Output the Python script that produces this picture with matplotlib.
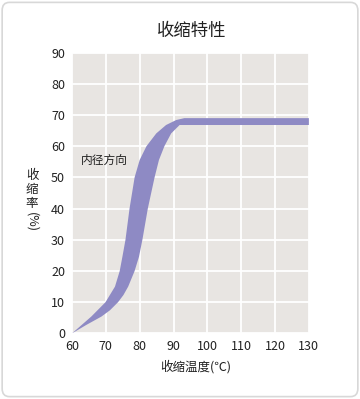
import matplotlib
matplotlib.use('Agg')
import matplotlib.pyplot as plt
from matplotlib.patches import FancyBboxPatch

plt.rcParams['font.family'] = ['Noto Sans CJK SC', 'DejaVu Sans']

# band edges (temperature, shrinkage %)
upper_x = [60, 65.7, 69.9, 72.7, 74.1, 74.9, 75.8, 77.0, 78.5, 80, 82, 84.9, 87.8, 90.8, 93.2, 130]
upper_y = [0, 5.4, 10, 15, 20, 24.6, 30, 40, 50, 55.6, 60, 64.1, 66.8, 68.4, 69, 69]
lower_x = [60, 64.2, 68.7, 71.2, 73.6, 75.2, 76.6, 78.5, 79.8, 80.8, 82.4, 84.4, 85.7, 87.3, 89.3, 91.8, 130]
lower_y = [0, 2.7, 5.4, 7.4, 10, 12.3, 15, 20, 24.6, 30, 40, 50, 55.6, 60, 64.1, 66.8, 66.8]

xticks = [60, 70, 80, 90, 100, 110, 120, 130]
yticks = [0, 10, 20, 30, 40, 50, 60, 70, 80, 90]

fig = plt.figure(figsize=(3.6, 3.99), dpi=100)
border = FancyBboxPatch((0.006, 0.006), 0.988, 0.988, boxstyle='round,pad=0,rounding_size=0.02',
                        transform=fig.transFigure, fc='none', ec='#d8d8d8', lw=1.2, zorder=-1)
fig.patches.append(border)

ax = fig.add_axes([0.2, 0.1644, 0.658, 0.7037])
ax.set_facecolor('#e8e5e2')
ax.fill(upper_x + lower_x[::-1], upper_y + lower_y[::-1], color='#8e8ac4', lw=0, zorder=3)

ax.set_xlim(60, 130); ax.set_ylim(0, 90)
ax.set_xticks(xticks); ax.set_yticks(yticks)
ax.grid(True, color='white', lw=1.3, zorder=1)
ax.set_axisbelow(True)
for s in ax.spines.values():
    s.set_visible(False)
ax.tick_params(length=0, labelsize=9, colors='#222222', pad=5)

ax.text(62.5, 54.5, '内径方向', fontsize=8.5, color='#222222', zorder=4)

fig.text(0.533, 0.922, '收缩特性', fontsize=12.5, ha='center', va='center', color='#222222')
fig.text(0.545, 0.08, '收缩温度(℃)', fontsize=9, ha='center', va='center', color='#222222')
fig.text(0.089, 0.524, '收\n缩\n率', fontsize=9, ha='center', va='center', color='#222222', linespacing=1.1)
fig.text(0.089, 0.444, '(%)', fontsize=9, ha='center', va='center', rotation=270, color='#222222')

fig.savefig('out.png', dpi=100)
